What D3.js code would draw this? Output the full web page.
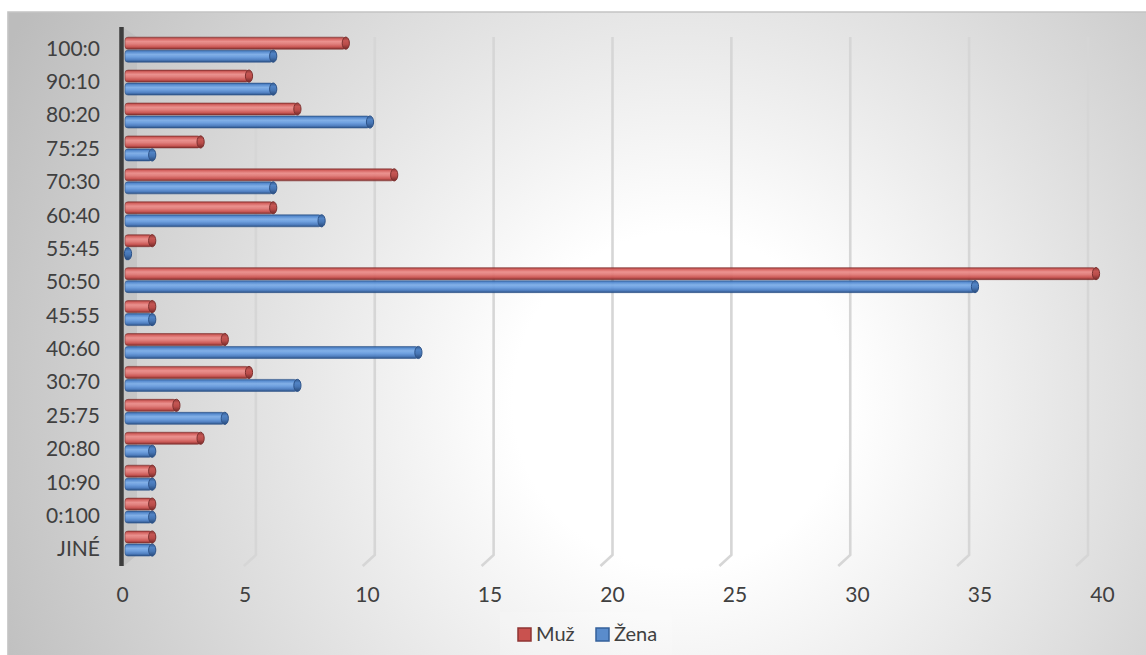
<!DOCTYPE html>
<html>
<head>
<meta charset="utf-8">
<script src="https://cdn.jsdelivr.net/npm/d3@7"></script>
<style>
  html, body { margin: 0; padding: 0; background: #ffffff; }
  svg { display: block; }
  text { font-family: Lato, "Open Sans", sans-serif; fill: #404040; }
</style>
</head>
<body>
<svg id="chart" width="1146" height="655"></svg>
<script>
// Shares (male:female) and number of respondents per sex
const categories = ["100:0", "90:10", "80:20", "75:25", "70:30", "60:40", "55:45", "50:50",
                    "45:55", "40:60", "30:70", "25:75", "20:80", "10:90", "0:100", "JINÉ"];
const muz  = [9, 5, 7, 3, 11, 6, 1, 40, 1, 4, 5, 2, 3, 1, 1, 1];
const zena = [6, 6, 10, 1, 6, 8, 0, 35, 1, 12, 7, 4, 1, 1, 1, 1];
const tickValues = [0, 5, 10, 15, 20, 25, 30, 35, 40];
const seriesNames = ["Muž", "Žena"];

const W = 1146, H = 655;
const svg = d3.select("#chart");
const defs = svg.append("defs");

// Chart area background: soft radial gradient, white in the middle
const bg = defs.append("radialGradient").attr("id", "bg")
  .attr("gradientUnits", "userSpaceOnUse")
  .attr("cx", 680).attr("cy", 400).attr("r", 760);
bg.append("stop").attr("offset", "0").attr("stop-color", "#ffffff");
bg.append("stop").attr("offset", "0.22").attr("stop-color", "#ffffff");
bg.append("stop").attr("offset", "1").attr("stop-color", "#bcbcbc");

svg.append("rect").attr("x", 8).attr("y", 12).attr("width", W).attr("height", H)
  .attr("fill", "url(#bg)");
svg.append("path").attr("d", `M8,${H} L8,12 L${W},12`)
  .attr("fill", "none").attr("stroke", "#c3c3c3").attr("stroke-width", 1.6);

// Scales: front floor edge (labels), back wall (gridlines), bars
const xLabel = d3.scaleLinear().domain([0, 40]).range([122, 1102]);
const xWall  = d3.scaleLinear().domain([0, 40]).range([137, 1088]);
const xBar   = d3.scaleLinear().domain([0, 40]).range([128, 1096]);
const yBar   = d3.scaleBand().domain(categories).range([33.2, 560]);
const yLabel = d3.scaleBand().domain(categories).range([30.5, 564.5]);

const wallTop = 37, wallBottom = 555, depthX = 12, depthY = 11;

// Side wall strip next to the vertical axis
svg.append("path")
  .attr("d", `M124,28 L${xWall(0)},${wallTop} L${xWall(0)},${wallBottom} L124,${wallBottom + depthY}Z`)
  .attr("fill", "#b9b9b9").attr("opacity", 0.55);

// Vertical gridlines on the back wall, with a short floor foot
const grid = svg.append("g");
tickValues.filter(v => v > 0).forEach(v => {
  const gx = xWall(v);
  grid.append("path")
    .attr("d", `M${gx},${wallTop} L${gx},${wallBottom} L${gx - depthX},${wallBottom + depthY}`)
    .attr("fill", "none").attr("stroke", "#d6d6d6").attr("stroke-width", 2.6);
});

// Cylinder gradients
function cylGrad(id, stops) {
  const g = defs.append("linearGradient").attr("id", id)
    .attr("x1", 0).attr("y1", 0).attr("x2", 0).attr("y2", 1);
  stops.forEach(([o, c]) => g.append("stop").attr("offset", o).attr("stop-color", c));
}
cylGrad("redBody", [[0, "#963230"], [0.14, "#d65f5c"], [0.36, "#ec8e8b"], [0.56, "#e27c79"],
                    [0.8, "#cc5451"], [1, "#7e2624"]]);
cylGrad("blueBody", [[0, "#2d5b98"], [0.14, "#5289d0"], [0.36, "#7eaee8"], [0.56, "#6a9ee0"],
                     [0.8, "#4b7dc2"], [1, "#234a80"]]);
cylGrad("redCap", [[0, "#8e2f2d"], [0.3, "#c4504d"], [0.6, "#b84542"], [1, "#6e201f"]]);
cylGrad("blueCap", [[0, "#2a5590"], [0.3, "#4a7fc4"], [0.6, "#3f70b2"], [1, "#1f4275"]]);

const barH = 13;
const series = [
  { name: seriesNames[0], values: muz,  body: "url(#redBody)",  cap: "url(#redCap)",  edge: "#7a2826", off: -barH },
  { name: seriesNames[1], values: zena, body: "url(#blueBody)", cap: "url(#blueCap)", edge: "#244c85", off: 0 }
];

const bars = svg.append("g").attr("opacity", 0.95);
series.forEach(s => {
  categories.forEach((c, i) => {
    const v = s.values[i];
    const cy = yBar(c) + yBar.bandwidth() / 2;
    const top = cy + s.off;
    const x0 = 125, x1 = xBar(v);
    if (x1 > x0) {
      bars.append("rect").attr("x", x0).attr("y", top + 0.5).attr("width", x1 - x0).attr("height", barH - 1)
        .attr("rx", 3).attr("fill", s.body)
        .attr("stroke", s.edge).attr("stroke-opacity", 0.55).attr("stroke-width", 1);
    }
    bars.append("ellipse").attr("cx", x1).attr("cy", top + barH / 2)
      .attr("rx", 3.6).attr("ry", barH / 2 - 0.4)
      .attr("fill", s.cap).attr("stroke", s.edge).attr("stroke-width", 1);
  });
});

// Vertical axis line (wall edge)
svg.append("line").attr("x1", 121.5).attr("x2", 121.5).attr("y1", 27).attr("y2", 566)
  .attr("stroke", "#3d3d3d").attr("stroke-width", 4.5);

// Category labels
const catG = svg.append("g");
categories.forEach(c => {
  catG.append("text").attr("x", 100).attr("y", yLabel(c) + yLabel.bandwidth() / 2)
    .attr("text-anchor", "end").attr("dominant-baseline", "central")
    .attr("font-size", 21).text(c);
});

// Value axis labels
const xAxis = d3.axisBottom(xLabel).tickValues(tickValues).tickSize(0).tickPadding(0);
const axG = svg.append("g").attr("transform", "translate(0,587)").call(xAxis);
axG.select(".domain").remove();
axG.selectAll("text").attr("font-size", 21).attr("dy", "0.72em")
  .style("font-family", "Lato, 'Open Sans', sans-serif").attr("fill", "#404040");

// Legend
const leg = svg.append("g");
leg.append("rect").attr("x", 500).attr("y", 612).attr("width", 172).attr("height", 43)
  .attr("fill", "#ffffff").attr("opacity", 0.15);
const legItems = [
  { sx: 518, tx: 536, fill: "#c9524f", stroke: "#8e3533", label: seriesNames[0] },
  { sx: 596, tx: 614, fill: "#5a8ccc", stroke: "#35609a", label: seriesNames[1] }
];
legItems.forEach(d => {
  leg.append("rect").attr("x", d.sx).attr("y", 628).attr("width", 13).attr("height", 13)
    .attr("fill", d.fill).attr("stroke", d.stroke).attr("stroke-width", 1.5);
  leg.append("text").attr("x", d.tx).attr("y", 641).attr("font-size", 20).text(d.label);
});
</script>
</body>
</html>
